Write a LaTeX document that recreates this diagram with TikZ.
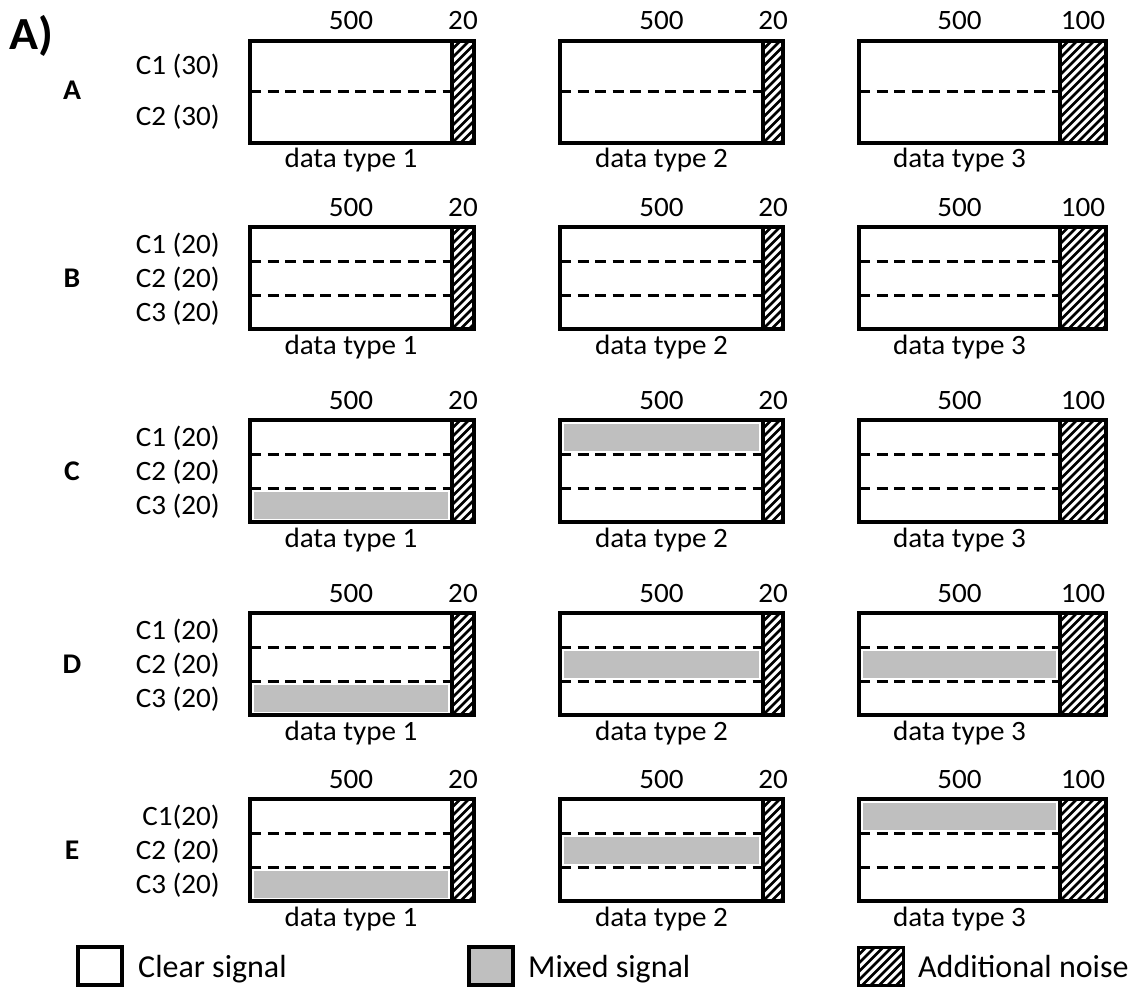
\documentclass[tikz,border=0pt]{standalone}
\usepackage{fontspec}
\setmainfont{Carlito}
\newfontfamily\lblfont[FakeStretch=1.04]{Carlito}
\definecolor{mixgray}{RGB}{191,191,191}
\tikzset{
  boxline/.style={line width=4pt},
  sepline/.style={line width=3pt, dash pattern=on 11pt off 6.5pt},
  hatchline/.style={line width=2.7pt},
  lbl/.style={font=\lblfont\fontsize{28}{33}\selectfont, inner sep=0pt, anchor=base},
  chlbl/.style={lbl, anchor=base east},
  rowlbl/.style={lbl, font=\lblfont\bfseries\fontsize{28.5}{33}\selectfont},
  leglbl/.style={font=\fontsize{32}{38}\selectfont, inner sep=0pt, anchor=base west},
  legbox/.style={draw, line width=4pt, minimum width=44pt, minimum height=38pt, inner sep=0pt},
}
\newcommand\hatchfill[4]{%
  \begin{scope}
    \clip (#1,#2) rectangle (#3,#4);
    \pgfmathsetmacro\hfirst{#1-(#4-#2)}
    \pgfmathsetmacro\hsecond{\hfirst+8.5}
    \pgfmathsetmacro\hH{#4-#2}
    \foreach \hx in {\hfirst,\hsecond,...,#3}
      \draw[hatchline] (\hx,#4) -- ++(\hH,-\hH);
  \end{scope}}
\newcommand\panel[9]{%
  \pgfmathsetmacro\pb{#2+102}
  \pgfmathsetmacro\ph{102/#6}
  \ifnum#7>0
    \fill[mixgray] ({#3+4},{#2+(#7-1)*\ph+3.5}) rectangle ({#4-4},{#2+#7*\ph-3.5});
  \fi
  \pgfmathtruncatemacro\nsep{#6-1}
  \foreach \i in {1,...,\nsep}
    \draw[sepline] (#3,{#2+\i*\ph}) -- (#4,{#2+\i*\ph});
  \hatchfill{#4}{#2}{#5}{\pb}
  \draw[boxline] (#3,#2) rectangle (#5,\pb);
  \draw[boxline] (#4,#2) -- (#4,\pb);
  \node[lbl] (#1-size) at ({(#3+#4)/2},{#2-11}) {500};
  \node[lbl] (#1-noise) at ({(#4+#5)/2},{#2-11}) {#8};
  \node[lbl] (#1-type) at ({(#3+#4)/2},{#2+127}) {data type #9};
}
\begin{document}
\begin{tikzpicture}[x=1pt,y=-1pt]
\useasboundingbox (0,0) rectangle (1145,987);
\node[lbl, font=\lblfont\bfseries\fontsize{46}{52}\selectfont, anchor=base west] (title) at (9,50) {A)};

% Row A
\node[rowlbl] (rA) at (72,100) {A};
\node[chlbl] (rA-c1) at (220,75) {C1 (30)};
\node[chlbl] (rA-c2) at (220,126) {C2 (30)};
\panel{A1}{41}{250}{452}{474}{2}{0}{20}{1}
\panel{A2}{41}{560}{763}{783}{2}{0}{20}{2}
\panel{A3}{41}{859}{1060}{1106}{2}{0}{100}{3}

% Row B
\node[rowlbl] (rB) at (72,287) {B};
\node[chlbl] (rB-c1) at (220,253) {C1 (20)};
\node[chlbl] (rB-c2) at (220,287) {C2 (20)};
\node[chlbl] (rB-c3) at (220,321) {C3 (20)};
\panel{B1}{227}{250}{452}{474}{3}{0}{20}{1}
\panel{B2}{227}{560}{763}{783}{3}{0}{20}{2}
\panel{B3}{227}{859}{1060}{1106}{3}{0}{100}{3}

% Row C
\node[rowlbl] (rC) at (72,480) {C};
\node[chlbl] (rC-c1) at (220,446) {C1 (20)};
\node[chlbl] (rC-c2) at (220,480) {C2 (20)};
\node[chlbl] (rC-c3) at (220,514) {C3 (20)};
\panel{C1}{420}{250}{452}{474}{3}{3}{20}{1}
\panel{C2}{420}{560}{763}{783}{3}{1}{20}{2}
\panel{C3}{420}{859}{1060}{1106}{3}{0}{100}{3}

% Row D
\node[rowlbl] (rD) at (72,673) {D};
\node[chlbl] (rD-c1) at (220,639) {C1 (20)};
\node[chlbl] (rD-c2) at (220,673) {C2 (20)};
\node[chlbl] (rD-c3) at (220,707) {C3 (20)};
\panel{D1}{613}{250}{452}{474}{3}{3}{20}{1}
\panel{D2}{613}{560}{763}{783}{3}{2}{20}{2}
\panel{D3}{613}{859}{1060}{1106}{3}{2}{100}{3}

% Row E
\node[rowlbl] (rE) at (72,859) {E};
\node[chlbl] (rE-c1) at (220,825) {C1(20)};
\node[chlbl] (rE-c2) at (220,859) {C2 (20)};
\node[chlbl] (rE-c3) at (220,893) {C3 (20)};
\panel{E1}{799}{250}{452}{474}{3}{3}{20}{1}
\panel{E2}{799}{560}{763}{783}{3}{2}{20}{2}
\panel{E3}{799}{859}{1060}{1106}{3}{1}{100}{3}

% Legend
\node[legbox] (legclear) at (100,966) {};
\node[leglbl] (legclear-t) at (138,977) {Clear signal};
\node[legbox, fill=mixgray] (legmixed) at (491,966) {};
\node[leglbl] (legmixed-t) at (528,977) {Mixed signal};
\hatchfill{858}{947}{903}{985}
\node[draw, line width=3pt, minimum width=45pt, minimum height=38pt, inner sep=0pt] (legnoise) at (880.5,966) {};
\node[leglbl] (legnoise-t) at (918,977) {Additional noise};
\end{tikzpicture}
\end{document}
